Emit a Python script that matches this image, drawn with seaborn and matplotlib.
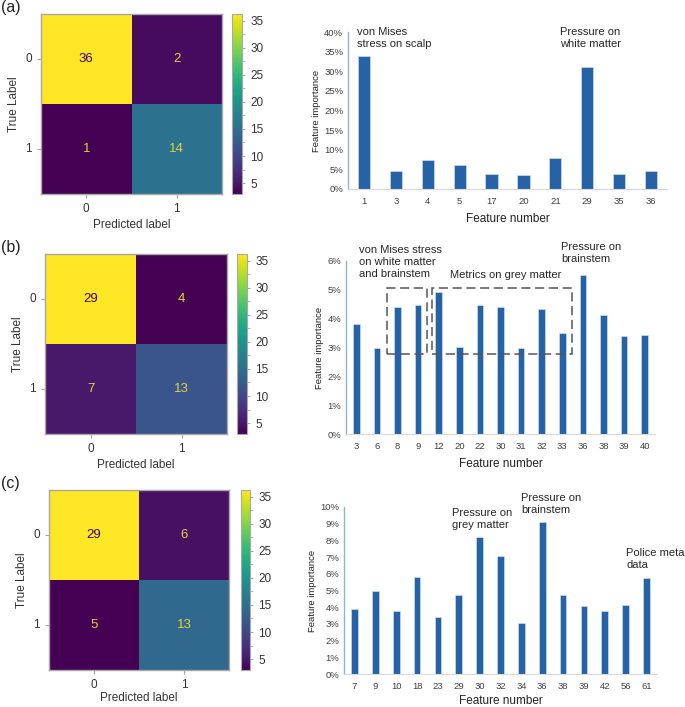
import numpy as np
import pandas as pd
import matplotlib
matplotlib.use("Agg")
import matplotlib.pyplot as plt
import seaborn as sns
from matplotlib.ticker import PercentFormatter, MultipleLocator
from matplotlib.patches import Rectangle

sns.set_style("white")
plt.rcParams['font.family'] = ['Liberation Sans', 'DejaVu Sans']

# 数据准备
cm_a = [[36, 2], [1, 14]]
cm_b = [[29, 4], [7, 13]]
cm_c = [[29, 6], [5, 13]]

feat_a = ['1', '3', '4', '5', '17', '20', '21', '29', '35', '36']
imp_a = [33.8, 4.5, 7.5, 6.0, 3.7, 3.5, 7.8, 31.1, 3.7, 4.6]

feat_b = ['3', '6', '8', '9', '12', '20', '22', '30', '31', '32', '33', '36', '38', '39', '40']
imp_b = [3.80, 3.00, 4.39, 4.49, 4.92, 3.03, 4.46, 4.42, 2.98, 4.35, 3.49, 5.50, 4.12, 3.40, 3.44]

feat_c = ['7', '9', '10', '18', '23', '29', '30', '32', '34', '36', '38', '39', '42', '56', '61']
imp_c = [3.88, 4.95, 3.80, 5.79, 3.44, 4.73, 8.21, 7.08, 3.04, 9.09, 4.73, 4.08, 3.78, 4.12, 5.73]

W, H = 685, 707
fig = plt.figure(figsize=(W / 100, H / 100), dpi=100)


def box(x0, y0, x1, y1):
    # 像素坐标 -> figure 坐标
    return [x0 / W, 1 - y1 / H, (x1 - x0) / W, (y1 - y0) / H]


grey = '#a8a8a8'
bar_color = '#2563a6'
cmap = plt.get_cmap('viridis')


def conf_matrix(cm, hm_box, cb_box, label, label_y, gamma=1.0, xpad=3):
    ax = fig.add_axes(box(*hm_box))
    cm = np.array(cm)
    norm = matplotlib.colors.PowerNorm(gamma, vmin=cm.min(), vmax=cm.max())
    sns.heatmap(cm, ax=ax, cmap='viridis', norm=norm,
                annot=True, fmt='d', cbar=False, square=False,
                annot_kws={'fontsize': 9.5})
    for t, v in zip(ax.texts, cm.flatten()):
        t.set_color('#440154' if v > cm.max() * 0.6 else '#e2d43c')
    for s in ax.spines.values():
        s.set_visible(True)
        s.set_color(grey)
        s.set_linewidth(1.0)
    ax.tick_params(axis='both', length=3, color=grey, labelsize=8.5,
                   labelcolor='#333333', bottom=True, left=True)
    ax.set_xticklabels(['0', '1'])
    ax.set_yticklabels(['0', '1'], rotation=0)
    ax.set_xlabel('Predicted label', fontsize=8.5, color='#333333', labelpad=xpad)
    ax.set_ylabel('True Label', fontsize=8.5, color='#333333')
    # 色条
    cax = fig.add_axes(box(*cb_box))
    sm = plt.cm.ScalarMappable(cmap=cmap, norm=plt.Normalize(3, 36.2))
    cb = fig.colorbar(sm, cax=cax)
    cb.set_ticks([5, 10, 15, 20, 25, 30, 35])
    cb.ax.yaxis.set_minor_locator(MultipleLocator(2.5))
    cb.ax.tick_params(which='both', length=2.5, color=grey, labelsize=8.5,
                      labelcolor='#333333')
    cb.outline.set_edgecolor(grey)
    fig.text(0.002, label_y, label, fontsize=11.5, va='top', color='#222222')
    return ax


def bars(feat, imp, ax_box, ymax, step, width, xpad=5):
    ax = fig.add_axes(box(*ax_box))
    df = pd.DataFrame({'feature': feat, 'importance': np.array(imp) / 100})
    sns.barplot(data=df, x='feature', y='importance', ax=ax, color=bar_color,
                saturation=1, width=width, edgecolor='#dbe6f2', linewidth=0.4)
    ax.set_ylim(0, ymax / 100)
    ax.yaxis.set_major_locator(MultipleLocator(step / 100))
    ax.yaxis.set_major_formatter(PercentFormatter(1, decimals=0))
    ax.set_xlim(-0.5, len(feat) - 0.5)
    for k in ['top', 'right']:
        ax.spines[k].set_visible(False)
    ax.spines['left'].set_color('#8fb3d4')
    ax.spines['left'].set_linewidth(1.0)
    ax.spines['bottom'].set_color('#d9d9d9')
    ax.spines['bottom'].set_linewidth(0.8)
    ax.tick_params(axis='both', length=0, labelsize=6.8, labelcolor='#404040')
    ax.tick_params(axis='x', pad=6)
    ax.set_xlabel('Feature number', fontsize=8.5, color='#222222', labelpad=xpad)
    ax.set_ylabel('Feature importance', fontsize=6.8, color='#222222', labelpad=2)
    return ax


# (a)
conf_matrix(cm_a, (41, 14, 222, 194), (232, 14, 242, 194), '(a)', 1.0)
axa = bars(feat_a, imp_a, (348, 32, 667, 189), 40, 5, 0.38)
axa.text(0.028, 1.035, 'von Mises\nstress on scalp', transform=axa.transAxes,
         fontsize=8, va='top', ha='left', linespacing=1.25)
axa.text(0.665, 1.035, 'Pressure on\nwhite matter', transform=axa.transAxes,
         fontsize=8, va='top', ha='left', linespacing=1.25)

# (b)
conf_matrix(cm_b, (45, 254, 227, 434), (237, 254, 247, 434), '(b)', 1 - 240 / H,
            gamma=1.3)
axb = bars(feat_b, imp_b, (346, 261, 655, 434), 6, 1, 0.32)
axb.text(0.042, 1.09, 'von Mises stress\non white matter\nand brainstem',
         transform=axb.transAxes, fontsize=8, va='top', ha='left', linespacing=1.25)
axb.text(0.337, 0.92, 'Metrics on grey matter', transform=axb.transAxes,
         fontsize=8, va='center', ha='left')
axb.text(0.696, 1.11, 'Pressure on\nbrainstem', transform=axb.transAxes,
         fontsize=8, va='top', ha='left', linespacing=1.25)
for x0, x1 in [(1.48, 3.42), (3.66, 10.48)]:
    axb.add_patch(Rectangle((x0, 0.0278), x1 - x0, 0.0505 - 0.0278, fill=False,
                            edgecolor='#555555', linestyle=(0, (6, 3)),
                            linewidth=1.1, clip_on=False, zorder=5))

# (c)
conf_matrix(cm_c, (49, 490, 229, 670), (241, 490, 250, 670), '(c)', 1 - 476 / H,
            xpad=1)
axc = bars(feat_c, imp_c, (344, 507, 657, 674), 10, 1, 0.32, xpad=3)
axc.text(0.345, 0.995, 'Pressure on\ngrey matter', transform=axc.transAxes,
         fontsize=8, va='top', ha='left', linespacing=1.25)
axc.text(0.565, 1.085, 'Pressure on\nbrainstem', transform=axc.transAxes,
         fontsize=8, va='top', ha='left', linespacing=1.25)
axc.text(0.901, 0.755, 'Police meta\ndata', transform=axc.transAxes,
         fontsize=8, va='top', ha='left', linespacing=1.25)

fig.savefig('out.png', dpi=100)
